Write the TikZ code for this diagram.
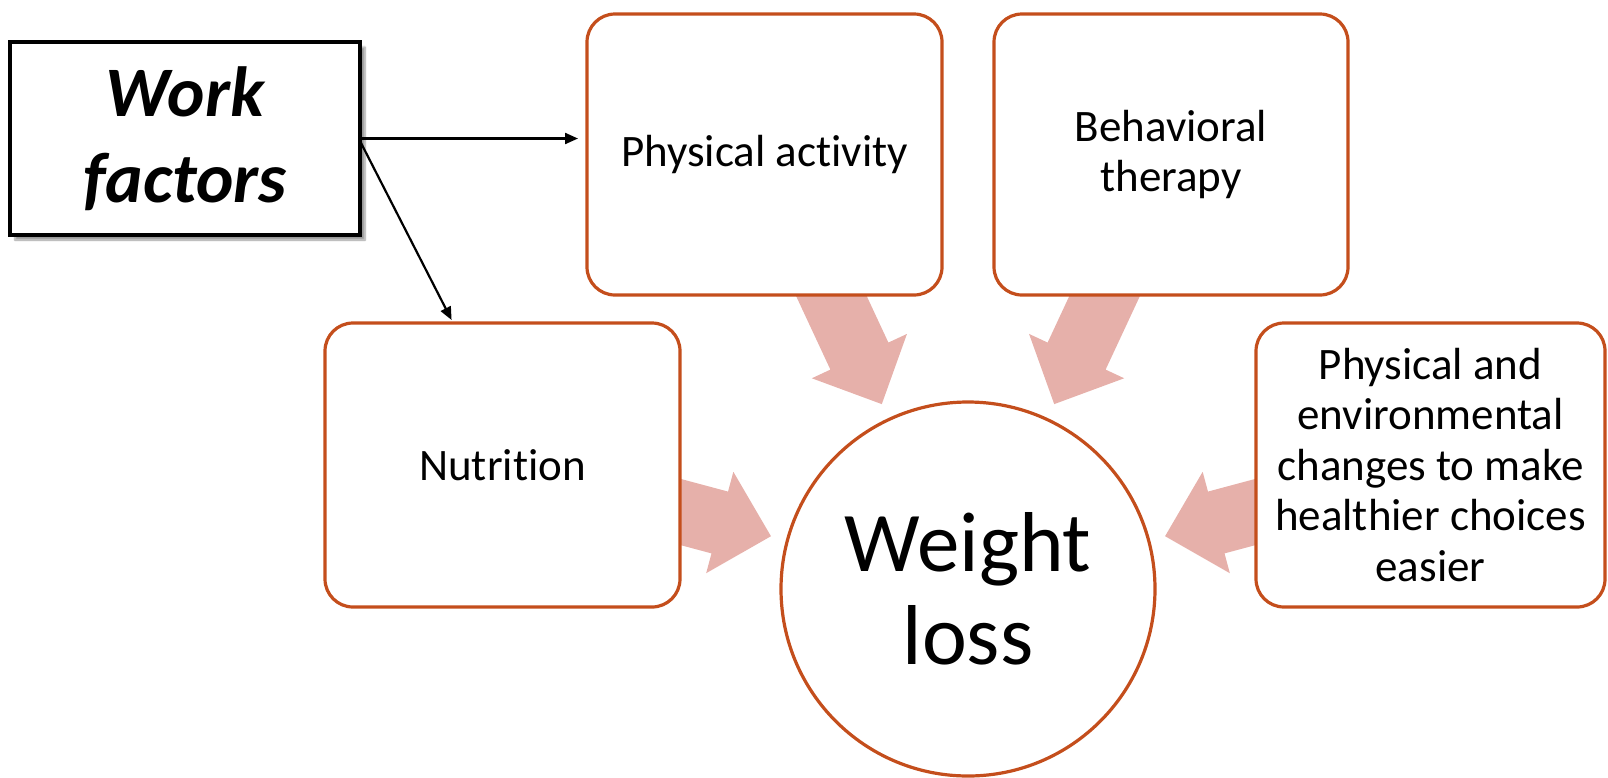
\documentclass[tikz,border=0pt]{standalone}
\usepackage{fontspec}
\setmainfont[Ligatures=NoCommon]{Carlito}
\usetikzlibrary{arrows.meta,shadows.blur,calc}
\definecolor{edgecol}{RGB}{196,78,28}
\definecolor{pinkfill}{RGB}{230,176,170}
\begin{document}
\begin{tikzpicture}[x=1pt,y=-1pt,
  rbox/.style={draw=edgecol, line width=3.2pt, rounded corners=28pt, fill=white,
    inner sep=0pt, outer sep=0pt, align=center, font=\fontsize{45}{50.5}\selectfont},
  wbox/.style={draw=black, line width=3.2pt, fill=white, inner sep=0pt, outer sep=0pt,
    align=center, font=\fontsize{71}{86}\selectfont\bfseries\itshape,
    blur shadow={shadow xshift=5pt, shadow yshift=-5pt, shadow opacity=40, shadow blur steps=6}},
  goal/.style={circle, draw=edgecol, line width=3.2pt, fill=white, inner sep=0pt, outer sep=0pt,
    minimum size=374pt, align=center, font=\fontsize{85}{93}\selectfont},
  thin arrow/.style={draw=black, line width=2.2pt, -{Triangle[length=13pt,width=11pt]}},
  bigarrow/.style={fill=pinkfill, draw=none}
]
\useasboundingbox (0,0) rectangle (1608,777);

% goal circle
\node[goal] (W) at (968,589) {Weight\\loss};

% converging block arrows (tails hidden behind boxes)
\newcommand{\blockarrow}[1]{%
  \fill[bigarrow, shift={(W.center)}, rotate=#1]
    (344,-32) -- (257,-32) -- (257,-52.5) -- (204,0) -- (257,52.5) -- (257,32) -- (344,32) -- cycle;}
\blockarrow{115}
\blockarrow{65}
\blockarrow{165}
\blockarrow{15}

% boxes
\node[rbox, minimum width=355pt, minimum height=281pt] (PA) at (764.5,154.5) {Physical activity};
\node[rbox, minimum width=354pt, minimum height=281pt] (BT) at (1171,154.5) {Behavioral\\therapy};
\node[rbox, minimum width=355pt, minimum height=284pt] (NU) at (502.5,465) {Nutrition};
\node[rbox, minimum width=349pt, minimum height=284pt] (EN) at (1430.5,465)
  {Physical and\\environmental\\changes to make\\healthier choices\\easier};

% work factors
\node[wbox, minimum width=350pt, minimum height=193pt] (WF) at (185,138.5) {Work\\factors};

\coordinate (s2) at ($(WF.east)+(0,2.5)$);
\coordinate (e1) at ($(WF.east -| PA.west)+(-9,0)$);
\coordinate (e2) at ($(NU.north west)+(126.6,-3)$);
\draw[thin arrow] (WF.east) -- (e1);
\draw[thin arrow] (s2) -- (e2);
\end{tikzpicture}
\end{document}
